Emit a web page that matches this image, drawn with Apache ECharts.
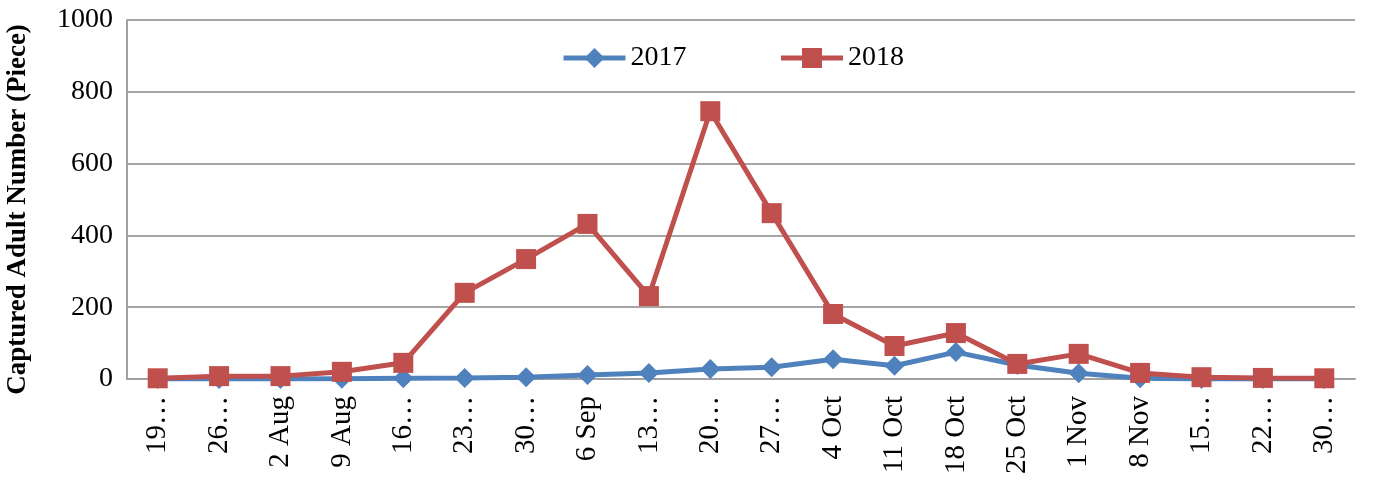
<!DOCTYPE html>
<html>
<head>
<meta charset="utf-8">
<script src="https://cdn.jsdelivr.net/npm/echarts@6/dist/echarts.min.js"></script>
<style>
html,body{margin:0;padding:0;background:#fff;}
#chart{width:1374px;height:484px;}
</style>
</head>
<body>
<div id="chart"></div>
<script>
const categories = ["19…","26…","2 Aug","9 Aug","16…","23…","30…","6 Sep","13…","20…","27…","4 Oct","11 Oct","18 Oct","25 Oct","1 Nov","8 Nov","15…","22…","30…"];
const values2017 = [0,0,0,1,2,3,5,11,17,28,33,55,37,75,39,16,2,0,0,0];
const values2018 = [2,8,8,20,45,240,334,432,231,746,462,181,92,128,42,70,17,5,3,2];
const yTicks = [0,200,400,600,800,1000];

const font = "'Liberation Serif','Times New Roman',serif";
const chart = echarts.init(document.getElementById('chart'));
chart.setOption({
  animation:false,
  backgroundColor:'#fff',
  textStyle:{fontFamily:font},
  grid:{left:127,right:19,top:20,bottom:105,containLabel:false,outerBoundsMode:'none'},
  legend:{
    left:556, top:39,
    itemWidth:62, itemHeight:25, itemGap:92,
    lineStyle:{width:5},
    textStyle:{fontFamily:font,fontSize:28,color:'#000'},
    data:['2017','2018']
  },
  xAxis:{
    type:'category',
    data:categories,
    boundaryGap:true,
    axisLine:{lineStyle:{color:'#a0a0a0',width:2}},
    axisTick:{show:false},
    axisLabel:{rotate:90,fontFamily:font,fontSize:29,color:'#000',margin:17,interval:0}
  },
  yAxis:{
    type:'value',
    min:yTicks[0], max:yTicks[yTicks.length-1], interval:200,
    name:'Captured Adult Number (Piece)',
    nameLocation:'middle',
    nameGap:95,
    nameTextStyle:{fontFamily:font,fontSize:27,fontWeight:'bold',color:'#000',padding:[0,20,0,0]},
    axisLine:{show:true,lineStyle:{color:'#a0a0a0',width:2}},
    axisTick:{show:false},
    splitLine:{lineStyle:{color:'#a6a6a6',width:2}},
    axisLabel:{fontFamily:font,fontSize:28,color:'#000',margin:14,formatter:function(v){return String(v);}}
  },
  series:[
    {
      name:'2017', type:'line', data:values2017,
      symbol:'diamond', symbolSize:20,
      lineStyle:{color:'#4F81BD',width:5},
      itemStyle:{color:'#4F81BD'},
      z:2
    },
    {
      name:'2018', type:'line', data:values2018,
      symbol:'rect', symbolSize:20,
      lineStyle:{color:'#C0504D',width:5},
      itemStyle:{color:'#C0504D'},
      z:3
    }
  ]
});
</script>
</body>
</html>
